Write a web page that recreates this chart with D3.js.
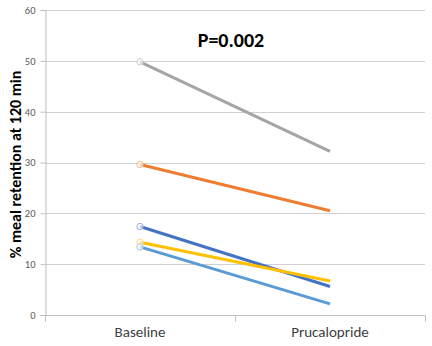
<!DOCTYPE html>
<html>
<head>
<meta charset="utf-8">
<script src="https://cdn.jsdelivr.net/npm/d3@7"></script>
<style>
  body { margin: 0; background: #fff; }
  text { font-family: Carlito, Lato, "Liberation Sans", Arial, sans-serif; }
</style>
</head>
<body>
<svg width="432" height="346"></svg>
<script>
var categories = ['Baseline', 'Prucalopride'];
var yTicks = [0, 10, 20, 30, 40, 50, 60];
var seriesNames = ['S1', 'S2', 'S3', 'S4', 'S5'];
var seriesColors = ['#4472C4', '#ED7D31', '#A5A5A5', '#FFC000', '#5B9BD5'];
var baselineValues = [17.4, 29.6, 49.8, 14.3, 13.4];
var prucaloprideValues = [5.6, 20.5, 32.2, 6.7, 2.2];

var svg = d3.select('svg');
var plotLeft = 45, plotRight = 425, plotTop = 10, plotBottom = 315;

var x = d3.scalePoint().domain(categories).range([plotLeft, plotRight]).padding(0.5);
var y = d3.scaleLinear().domain([0, 60]).range([plotBottom, plotTop]);

// gridlines
svg.append('g')
  .selectAll('line')
  .data(yTicks.slice(1))
  .enter().append('line')
  .attr('x1', plotLeft).attr('x2', plotRight)
  .attr('y1', function(d) { return Math.round(y(d)) + 0.5; })
  .attr('y2', function(d) { return Math.round(y(d)) + 0.5; })
  .attr('stroke', '#D0D0D0')
  .attr('stroke-width', 1);

// y axis
var yAxis = svg.append('g')
  .attr('transform', 'translate(' + (plotLeft + 0.5) + ',0)')
  .call(d3.axisLeft(y).tickValues(yTicks).tickSize(5).tickPadding(5));
yAxis.select('.domain').attr('stroke', '#BFBFBF');
yAxis.selectAll('.tick line').attr('stroke', '#BFBFBF');
yAxis.selectAll('.tick text').attr('fill', '#595959').style('font-size', '10.5px');

// x axis
var xAxis = svg.append('g')
  .attr('transform', 'translate(0,' + (plotBottom + 0.5) + ')');
xAxis.append('line')
  .attr('x1', plotLeft).attr('x2', plotRight)
  .attr('y1', 0).attr('y2', 0)
  .attr('stroke', '#BFBFBF');
xAxis.selectAll('.xt')
  .data([plotLeft, (plotLeft + plotRight) / 2, plotRight])
  .enter().append('line')
  .attr('x1', function(d) { return d + 0.5; }).attr('x2', function(d) { return d + 0.5; })
  .attr('y1', 0).attr('y2', 6)
  .attr('stroke', '#BFBFBF');
xAxis.selectAll('text')
  .data(categories)
  .enter().append('text')
  .attr('x', function(d) { return x(d); })
  .attr('y', 21)
  .attr('text-anchor', 'middle')
  .attr('fill', '#404040')
  .style('font-size', '15px')
  .text(function(d) { return d; });

// series lines
var series = seriesNames.map(function(n, i) {
  return { name: n, color: seriesColors[i], values: [baselineValues[i], prucaloprideValues[i]] };
});

var line = d3.line()
  .x(function(d, i) { return x(categories[i]); })
  .y(function(d) { return y(d); });

var g = svg.append('g');
series.forEach(function(s) {
  g.append('path')
    .datum(s.values)
    .attr('d', line)
    .attr('fill', 'none')
    .attr('stroke', s.color)
    .attr('stroke-width', 3);
  g.append('circle')
    .attr('cx', x(categories[0]))
    .attr('cy', y(s.values[0]))
    .attr('r', 3.2)
    .attr('fill', '#fff')
    .attr('fill-opacity', 0.6)
    .attr('stroke', d3.interpolateRgb(s.color, '#fff')(0.45))
    .attr('stroke-width', 1);
});

// title
svg.append('text')
  .attr('x', 231)
  .attr('y', 47)
  .attr('text-anchor', 'middle')
  .style('font-size', '20px')
  .style('font-weight', 'bold')
  .text('P=0.002');

// y label
svg.append('text')
  .attr('transform', 'translate(21,' + ((plotTop + plotBottom) / 2 + 2) + ') rotate(-90)')
  .attr('text-anchor', 'middle')
  .style('font-size', '16px')
  .style('font-weight', 'bold')
  .text('% meal retention at 120 min');
</script>
</body>
</html>
